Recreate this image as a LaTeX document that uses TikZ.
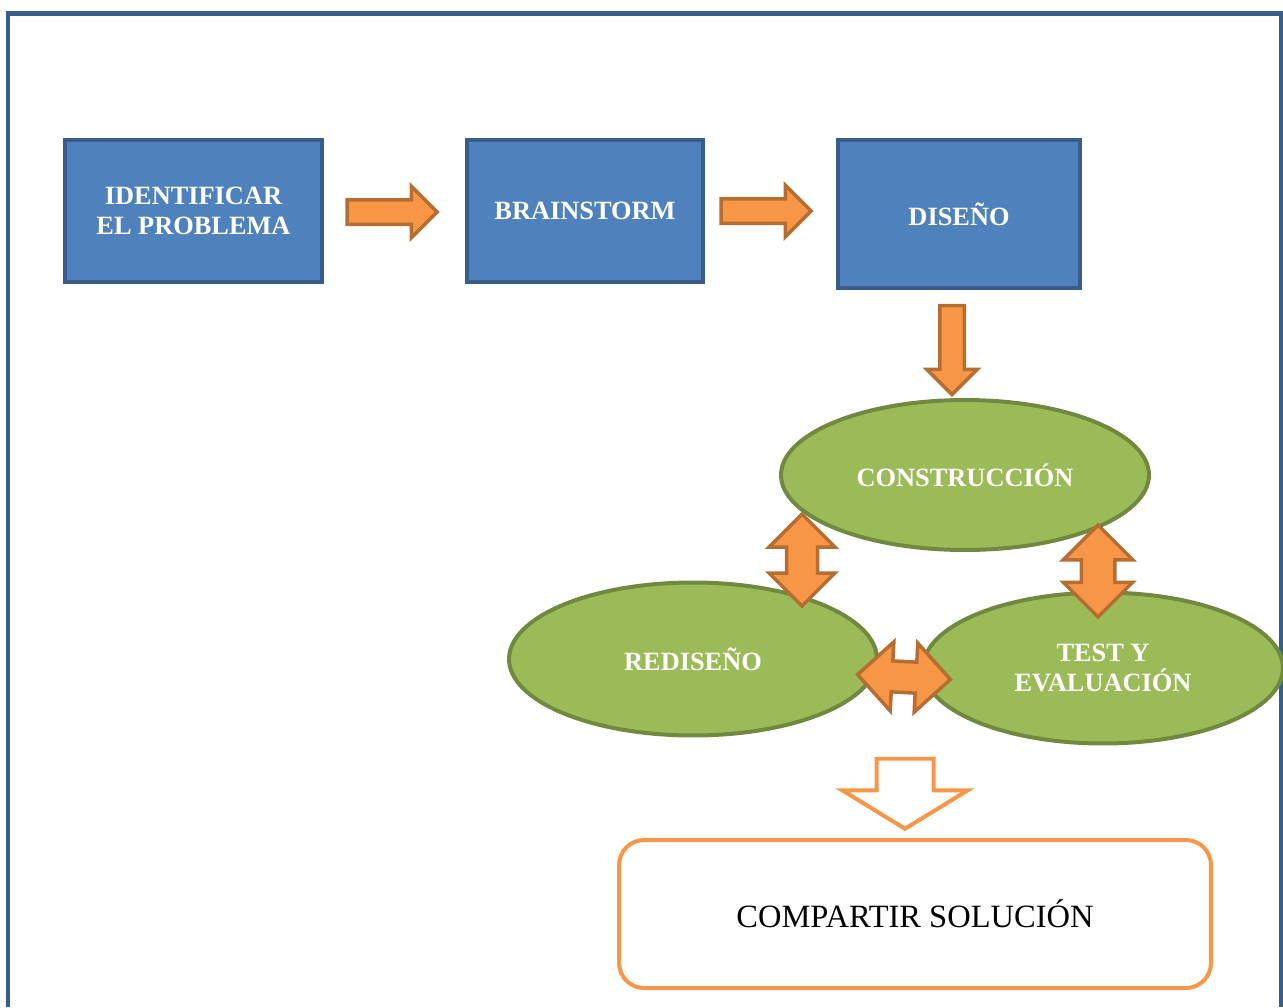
\documentclass[tikz,border=0pt]{standalone}
\usepackage{fontspec}
\setmainfont{Liberation Serif}
\usetikzlibrary{shapes.geometric,shapes.arrows}

\definecolor{boxblue}{HTML}{4F81BD}
\definecolor{boxedge}{HTML}{385D8A}
\definecolor{ovalgreen}{HTML}{9BBB59}
\definecolor{ovaledge}{HTML}{71893F}
\definecolor{arrfill}{HTML}{F79646}
\definecolor{arredge}{HTML}{B66D31}

\begin{document}
\begin{tikzpicture}[x=0.02cm,y=-0.02cm,
    rotulo/.style={text=white, font=\fontsize{15}{17}\selectfont\bfseries, align=center},
    paso/.style={rectangle, draw=boxedge, fill=boxblue, line width=0.08cm, inner sep=0, rotulo},
    fase/.style={ellipse, draw=ovaledge, fill=ovalgreen, line width=0.08cm, inner sep=0, rotulo},
    flecha/.style={single arrow, draw=arredge, fill=arrfill, line width=0.07cm,
        inner xsep=0, inner ysep=0.21cm, minimum width=0pt,
        single arrow head extend=0.27cm, minimum height=1.8cm},
    dflecha/.style={double arrow, draw=arredge, fill=arrfill, line width=0.07cm,
        inner xsep=0, minimum width=0pt, minimum height=1.84cm}]

    \useasboundingbox (0,0) rectangle (1283,1007);

    % marco
    \draw[boxedge, line width=0.1cm] (8,1007) -- (8,14) -- (1281,14) -- (1281,1007);

    % pasos de arriba
    \node[paso, minimum width=5.14cm, minimum height=2.84cm] (idprob) at (193.5,211) {IDENTIFICAR\\EL PROBLEMA};
    \node[paso, minimum width=4.72cm, minimum height=2.84cm] (brainst) at (585,211) {BRAINSTORM};
    \node[paso, minimum width=4.84cm, minimum height=2.96cm] (diseno) at (959,214) {DISEÑO};

    \node[flecha] (f1) at (386,212) {};
    \node[flecha] (f2) at (760,211) {};
    \node[flecha, rotate=-90, minimum height=1.78cm, single arrow head extend=0.26cm] (f3) at (952,344) {};

    % ciclo
    \node[fase, minimum width=7.36cm, minimum height=3.0cm] (constr) at (965,475) {CONSTRUCCIÓN};
    \node[fase, minimum width=7.36cm, minimum height=3.06cm] (redis) at (693,659) {REDISEÑO};
    \node[fase, minimum width=7.2cm, minimum height=3.02cm] (testev) at (1103,668) {TEST Y\\EVALUACIÓN};

    \node[dflecha, rotate=90, inner ysep=0.275cm, double arrow head extend=0.35cm] (d1) at (802,560) {};
    \node[dflecha, rotate=90, inner ysep=0.3cm, double arrow head extend=0.36cm] (d2) at (1098,571) {};
    \node[dflecha, rotate=-3, inner ysep=0.275cm, double arrow head extend=0.38cm, minimum height=1.86cm] (d3) at (904,677) {};

    % salida
    \node[single arrow, rotate=-90, draw=arrfill, fill=white, line width=0.08cm,
        inner xsep=0, inner ysep=0.53cm, minimum width=0pt, single arrow head extend=0.68cm,
        single arrow tip angle=117, minimum height=1.4cm] (f4) at (905,785) {};

    \node[rectangle, rounded corners=0.5cm, draw=arrfill, line width=0.08cm,
        minimum width=11.84cm, minimum height=2.96cm, font=\fontsize{18.5}{20}\selectfont] (compartir) at (915,914) {COMPARTIR SOLUCIÓN};
\end{tikzpicture}
\end{document}
